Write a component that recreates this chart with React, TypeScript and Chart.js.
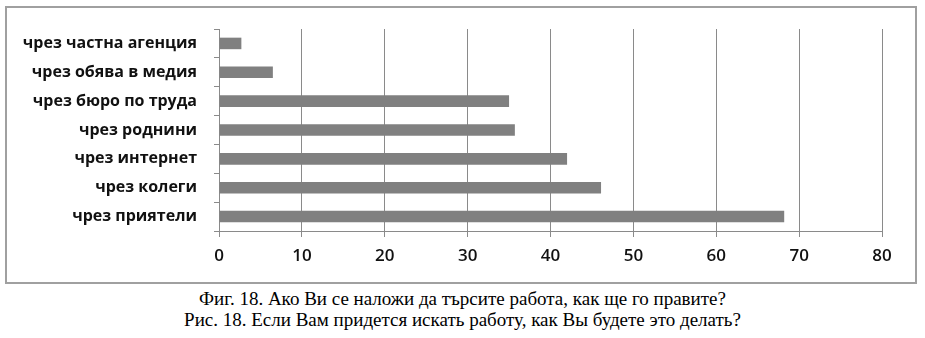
import React, { useEffect, useRef } from "react";
import { Chart, registerables } from "chart.js";

Chart.register(...registerables);

const categories = [
  "чрез частна агенция",
  "чрез обява в медия",
  "чрез бюро по труда",
  "чрез роднини",
  "чрез интернет",
  "чрез колеги",
  "чрез приятели",
];
const values = [2.7, 6.5, 35.0, 35.7, 42.0, 46.1, 68.2];
const xTicks = [0, 10, 20, 30, 40, 50, 60, 70, 80];
const captionLines = [
  "Фиг. 18. Ако Ви се наложи да търсите работа, как ще го правите?",
  "Рис. 18. Если Вам придется искать работу, как Вы будете это делать?",
];

export default function App() {
  const ref = useRef<HTMLCanvasElement | null>(null);

  useEffect(() => {
    if (!ref.current) return;
    const chart = new Chart(ref.current, {
      type: "bar",
      data: {
        labels: categories,
        datasets: [
          {
            data: values,
            backgroundColor: "#808080",
            borderWidth: 0,
            categoryPercentage: 0.8,
            barPercentage: 0.5,
          },
        ],
      },
      options: {
        indexAxis: "y",
        animation: false,
        responsive: false,
        maintainAspectRatio: false,
        layout: { padding: { top: 29, right: 43, left: 0, bottom: 0 } },
        plugins: { legend: { display: false }, tooltip: { enabled: false } },
        scales: {
          x: {
            min: 0,
            max: 80,
            afterBuildTicks: (scale: any) => {
              scale.ticks = xTicks.map((v) => ({ value: v }));
            },
            afterFit: (scale: any) => {
              scale.height = 52;
            },
            grid: {
              color: "#8a8a8a",
              lineWidth: 1,
              drawTicks: true,
              tickLength: 6,
            },
            border: { display: true, color: "#8a8a8a", width: 1 },
            ticks: {
              color: "#111",
              padding: 9,
              font: { family: "Open Sans", size: 17, weight: "600" },
            },
          },
          y: {
            afterFit: (scale: any) => {
              scale.width = 219;
            },
            grid: {
              display: true,
              drawOnChartArea: false,
              drawTicks: true,
              tickLength: 5,
              color: "#8a8a8a",
              offset: true,
            },
            border: { display: true, color: "#8a8a8a", width: 1 },
            ticks: {
              color: "#111",
              padding: 17,
              font: { family: "Open Sans", size: 16, weight: "bold" },
            },
          },
        },
      },
    });
    return () => chart.destroy();
  }, []);

  return (
    <div
      style={{
        position: "fixed",
        left: 0,
        top: 0,
        width: 925,
        height: 338,
        background: "#fff",
      }}
    >
      <div
        style={{
          position: "absolute",
          left: 5,
          top: 6,
          width: 908,
          height: 274,
          border: "2px solid #a0a0a0",
        }}
      />
      <canvas
        ref={ref}
        width={925}
        height={283}
        style={{ position: "absolute", left: 0, top: 0, width: 925, height: 283 }}
      />
      <div
        style={{
          position: "absolute",
          left: 0,
          top: 288,
          width: 925,
          textAlign: "center",
          fontFamily: "'Liberation Serif', 'Times New Roman', serif",
          fontSize: 19,
          lineHeight: "21px",
          color: "#000",
        }}
      >
        {captionLines.map((l, i) => (
          <div key={i}>{l}</div>
        ))}
      </div>
    </div>
  );
}
